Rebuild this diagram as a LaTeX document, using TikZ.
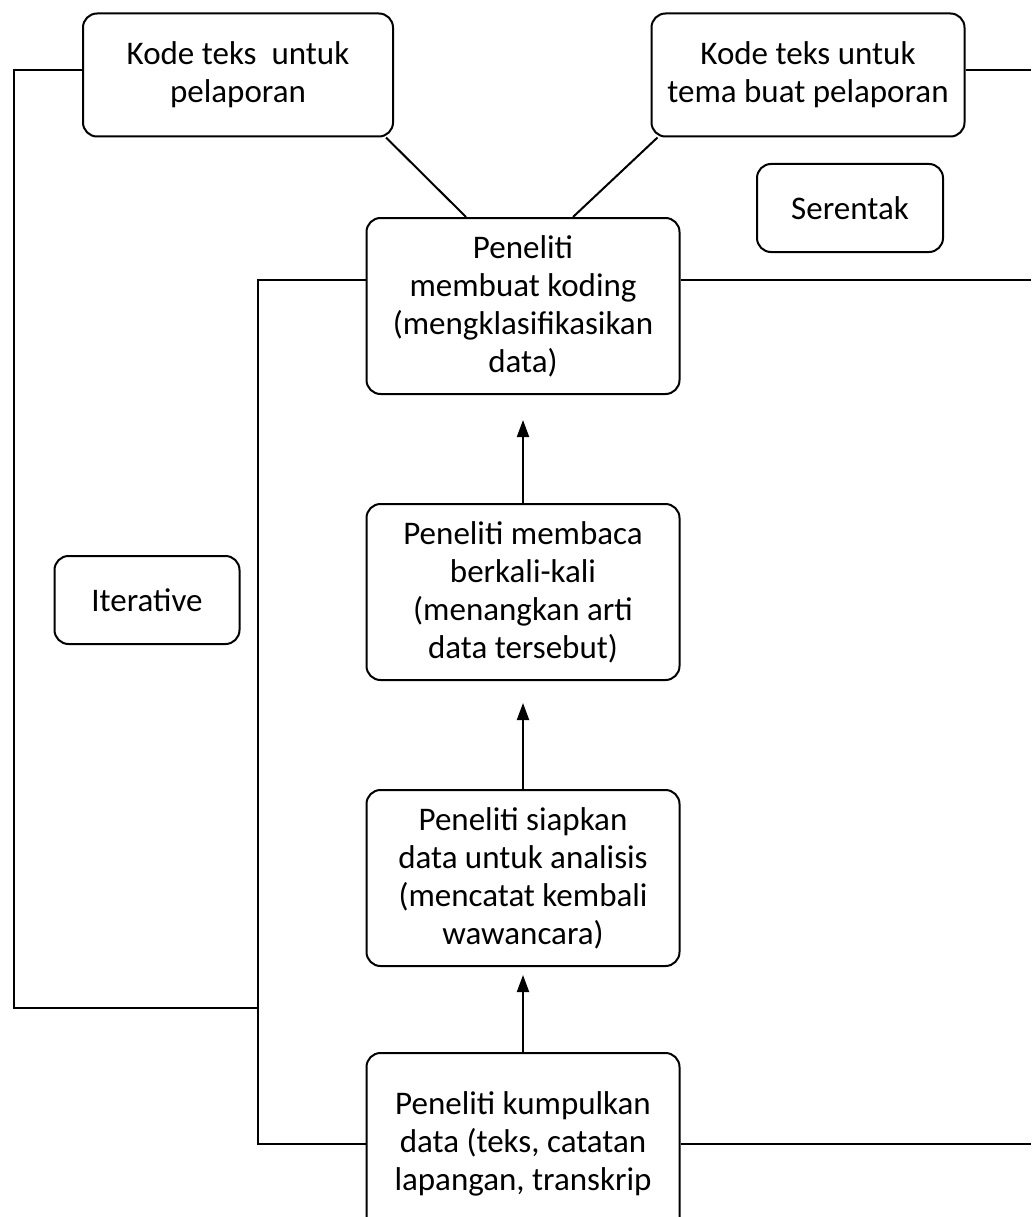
\documentclass[tikz,border=0pt]{standalone}
\usepackage{fontspec}
\setmainfont{Carlito}
\usetikzlibrary{arrows.meta,positioning}

\begin{document}
\begin{tikzpicture}[
        x=1pt, y=-1pt,
        node distance=108pt,
        box/.style={
          draw,
          rounded corners=14pt,
          minimum width=313pt,
          minimum height=176pt,
          align=center,
          font=\fontsize{33}{38}\selectfont,
          line width=2pt
        },
        smallbox/.style={
          box,
          minimum height=123pt
        },
        tagbox/.style={
          box,
          minimum width=186pt,
          minimum height=88pt
        },
        link/.style={
          line width=2pt
        },
        arrow/.style={
          -{Triangle[length=17pt,width=12pt]},
          line width=2pt
        }
      ]

      \useasboundingbox (0,0) rectangle (1031,1217);

      \node[smallbox, minimum width=310pt] (kodelap) at (238,75) {Kode teks\ \ untuk\\pelaporan};
      \node[smallbox] (kodetema) at (808,75) {Kode teks untuk\\tema buat pelaporan};
      \node[tagbox] (serentak) at (850,208) {Serentak};
      \node[tagbox, minimum width=185pt] (iter) at (147,600) {Iterative};

      \node[box] (koding) at (523,306) {Peneliti\\membuat koding\\(mengklasifikasikan\\data)};
      \node[box, below=of koding] (membaca) {Peneliti membaca\\berkali-kali\\(menangkan arti\\data tersebut)};
      \node[box, below=of membaca] (siapkan) {Peneliti siapkan\\data untuk analisis\\(mencatat kembali\\wawancara)};
      \node[box, below=85pt of siapkan, minimum height=182pt] (kumpul) {Peneliti kumpulkan\\data (teks, catatan\\lapangan, transkrip};

      \coordinate (joinL) at (258,1008);
      \coordinate (edge) at (1031,0);

      \draw[arrow, shorten >=25pt] (membaca) -- (koding);
      \draw[arrow, shorten >=22pt] (siapkan) -- (membaca);
      \draw[arrow, shorten >=8pt] (kumpul) -- (siapkan);

      \draw[link] ([xshift=-8pt]kodelap.south east) -- ([xshift=-57pt]koding.north);
      \draw[link] ([xshift=7pt]kodetema.south west) -- ([xshift=50pt]koding.north);

      \draw[link] ([yshift=5pt]kodelap.west) -- ++(-68,0) |- (joinL);
      \draw[link] ([yshift=26pt]koding.west) -- ++(-108,0) |- (kumpul.west);
      \draw[link] ([yshift=5pt]kodetema.east) -- ([yshift=5pt]kodetema.east -| edge);
      \draw[link] ([yshift=26pt]koding.east) -- ([yshift=26pt]koding.east -| edge);
      \draw[link] (kumpul.east) -- (kumpul.east -| edge);

      \end{tikzpicture}
\end{document}
